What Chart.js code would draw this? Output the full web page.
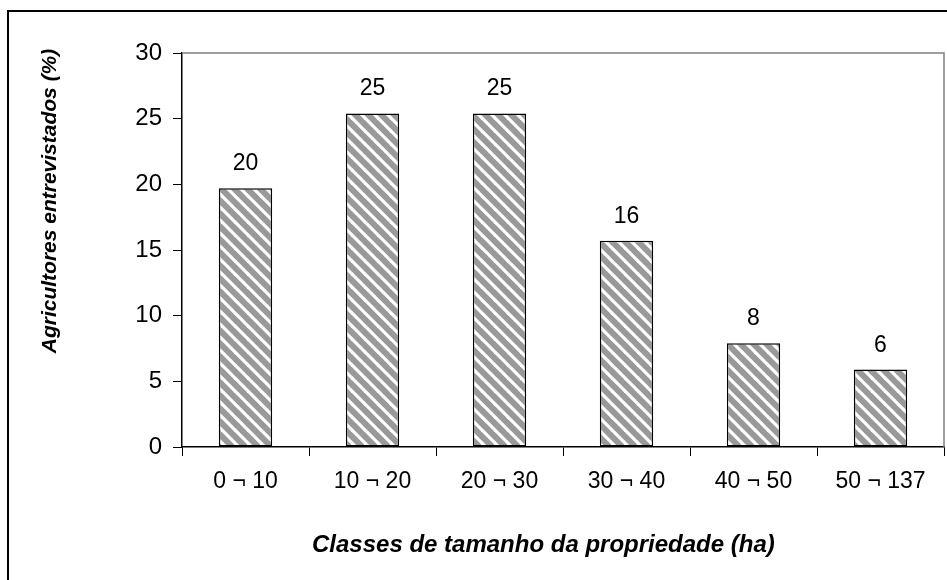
<!DOCTYPE html>
<html>
<head>
<meta charset="utf-8">
<script src="https://cdn.jsdelivr.net/npm/chart.js@4.4.0/dist/chart.umd.min.js"></script>
<style>
  body { margin: 0; background: #fff; }
  #wrap { width: 947px; height: 580px; position: relative; }
</style>
</head>
<body>
<div id="wrap"><canvas id="sizeChart" width="947" height="580"></canvas></div>
<script>
// farm size classes (ha) and share of interviewed farmers (%)
const categories = ['0 ¬ 10', '10 ¬ 20', '20 ¬ 30', '30 ¬ 40', '40 ¬ 50', '50 ¬ 137'];
const shares = [19.7, 25.4, 25.4, 15.7, 7.9, 5.9];
const yTicks = [0, 5, 10, 15, 20, 25, 30];

const yTitle = 'Agricultores entrevistados (%)';
const xTitle = 'Classes de tamanho da propriedade (ha)';
const fontFamily = '"Liberation Sans", Arial, sans-serif';

// diagonal hatch like the old excel fill
function makeHatch() {
    const n = 13;
    const c = document.createElement('canvas');
    c.width = n; c.height = n;
    const g = c.getContext('2d');
    g.fillStyle = '#999999';
    g.fillRect(0, 0, n, n);
    g.strokeStyle = '#ffffff';
    g.lineWidth = 3.2;
    [-n, 0, n].forEach(off => {
        g.beginPath();
        g.moveTo(-2, -2 + off);
        g.lineTo(n + 2, n + 2 + off);
        g.stroke();
    });
    return g.createPattern(c, 'repeat');
}

const frame = {
    id: 'frame',
    beforeDraw(chart) {
        const c = chart.ctx;
        c.save();
        c.fillStyle = '#fff';
        c.fillRect(0, 0, chart.width, chart.height);
        c.strokeStyle = '#000';
        c.lineWidth = 2;
        c.beginPath();
        c.moveTo(8, 580);
        c.lineTo(8, 11);
        c.lineTo(947, 11);
        c.stroke();
        c.restore();
    },
    afterDraw(chart) {
        const c = chart.ctx;
        const a = chart.chartArea;
        c.save();
        // plot area border (top + right), grey
        c.strokeStyle = '#808080';
        c.lineWidth = 1.5;
        c.beginPath();
        c.moveTo(a.left, a.top);
        c.lineTo(a.right, a.top);
        c.lineTo(a.right, a.bottom);
        c.stroke();

        // value labels
        c.fillStyle = '#000';
        c.font = '23px ' + fontFamily;
        c.textAlign = 'center';
        c.textBaseline = 'alphabetic';
        chart.getDatasetMeta(0).data.forEach((bar, i) => {
            c.fillText(String(Math.round(shares[i])), bar.x, bar.y - 18);
        });

        // axis titles
        c.font = 'italic bold 24px ' + fontFamily;
        c.textAlign = 'left';
        c.fillText(xTitle, 312, 552);
        c.font = 'italic bold 21px ' + fontFamily;
        c.textAlign = 'center';
        c.translate(50, 201);
        c.rotate(-Math.PI / 2);
        c.textBaseline = 'middle';
        c.fillText(yTitle, 0, 0);
        c.restore();
    }
};

const ctx = document.getElementById('sizeChart').getContext('2d');
new Chart(ctx, {
    type: 'bar',
    data: {
        labels: categories,
        datasets: [{
            data: shares,
            backgroundColor: makeHatch(),
            borderColor: '#000',
            borderWidth: 1.5,
            borderSkipped: false,
            barPercentage: 0.42,
            categoryPercentage: 1
        }]
    },
    options: {
        responsive: false,
        animation: false,
        layout: { padding: { top: 53, right: 3, left: 0, bottom: 0 } },
        plugins: {
            legend: { display: false },
            tooltip: { enabled: false }
        },
        scales: {
            x: {
                grid: { drawOnChartArea: false, drawTicks: true, tickLength: 9, color: '#000', offset: true },
                border: { display: true, color: '#000', width: 1.5 },
                ticks: { color: '#000', font: { family: fontFamily, size: 23 }, padding: 12, maxRotation: 0 },
                afterFit(scale) { scale.height = 133; }
            },
            y: {
                min: 0,
                max: 30,
                afterBuildTicks(scale) { scale.ticks = yTicks.map(v => ({ value: v })); },
                grid: { drawOnChartArea: false, drawTicks: true, tickLength: 9, color: '#000' },
                border: { display: true, color: '#000', width: 1.5 },
                ticks: { color: '#000', font: { family: fontFamily, size: 24 }, padding: 11 },
                afterFit(scale) { scale.width = 182; }
            }
        }
    },
    plugins: [frame]
});
</script>
</body>
</html>
